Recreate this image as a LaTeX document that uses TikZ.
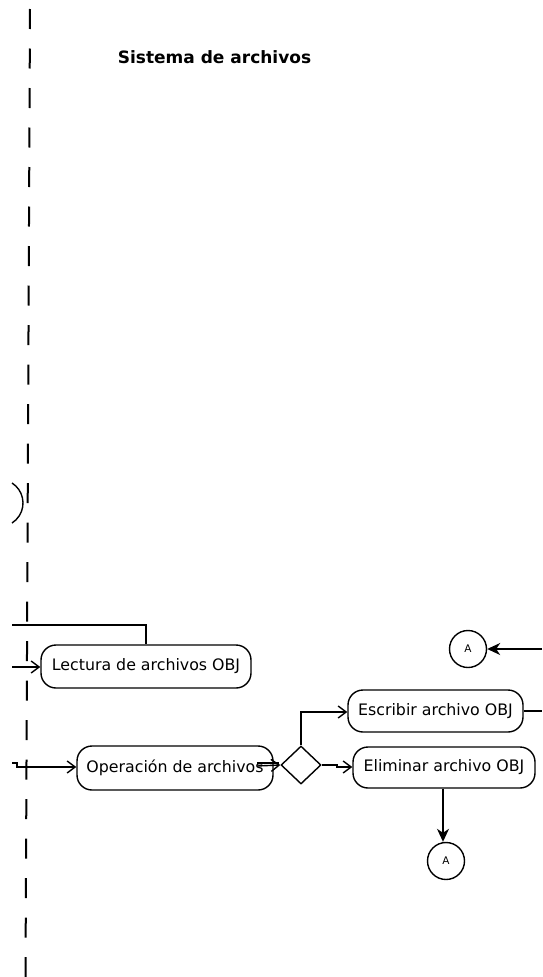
\documentclass[tikz,border=0pt]{standalone}
\usepackage{fontspec}
\setmainfont{DejaVu Sans}
\usetikzlibrary{arrows.meta,shapes.geometric}
\begin{document}
\begin{tikzpicture}[x=1pt,y=-1pt,line width=1.4pt,
  act/.style={draw, rounded corners=15pt, inner sep=0pt, font=\fontsize{15.8}{18}\selectfont},
  dec/.style={draw, diamond, minimum width=40pt, minimum height=38pt, inner sep=0pt},
  conn/.style={draw, circle, minimum size=37pt, inner sep=0pt, font=\fontsize{10.5}{12}\selectfont},
  flow/.style={-{Straight Barb[length=8pt,width=12pt]}},
  refarrow/.style={-{Stealth[length=13pt,width=12pt,inset=4pt]}},
  lanedash/.style={line width=2pt}]
\useasboundingbox (0,0) rectangle (542,977);
% swimlane divider, drawn as dashes
\foreach \k in {0,...,24}{
  \pgfmathsetmacro{\ya}{9+39.5*\k}
  \pgfmathsetmacro{\yb}{min(\ya+20,977)}
  \pgfmathsetmacro{\xa}{30-4.5*(\ya-9)/968}
  \pgfmathsetmacro{\xb}{30-4.5*(\yb-9)/968}
  \draw[lanedash] (\xa,\ya) -- (\xb,\yb);
}
% partial connector at left edge
\draw (12,483) arc[start angle=-57.6, end angle=57.6, radius=23.7];
% title
\node[font=\fontsize{17}{20}\selectfont\bfseries] (title) at (214.5,57) {Sistema de archivos};
% activities
\node[act, minimum width=210pt, minimum height=43pt] (lect) at (146,666.5) {Lectura de archivos OBJ};
\node[act, minimum width=196pt, minimum height=44pt] (oper) at (175,768) {Operación de archivos};
\node[act, minimum width=175pt, minimum height=42pt] (escr) at (435.5,711) {Escribir archivo OBJ};
\node[act, minimum width=182pt, minimum height=41pt] (elim) at (444,767.5) {Eliminar archivo OBJ};
\node[dec] (dia) at (301,765) {};
\node[conn] (a1) at (468,649) {A};
\node[conn] (a2) at (446,861) {A};
% free ends
\coordinate (inTop) at (12,625);
\coordinate (inLect) at (12,667);
\coordinate (inOper) at (12,763);
\coordinate (outRight) at (542,711);
\coordinate (inA) at (542,649);
% connectors
\draw (inTop) -- (146,625) -- (lect.north);
\draw[flow] (inLect) -- (lect.west |- inLect);
\draw[flow] (inOper) -- (17,763) -- (17,767) -- (oper.west |- 0,767);
\draw (257,763) -- (279,763);
\draw[flow] (257,766) -- (dia.west);
\draw[flow] (dia.north) -- (301,712) -- (escr.west |- 0,712);
\draw[flow] (dia.east) -- (337,765) -- (337,767) -- (elim.west |- 0,767);
\draw[refarrow] (elim.south -| 443,0) -- (a2.north -| 443,0);
\draw (escr.east) -- (outRight);
\draw[refarrow] (inA) -- (a1.east);
\end{tikzpicture}
\end{document}
